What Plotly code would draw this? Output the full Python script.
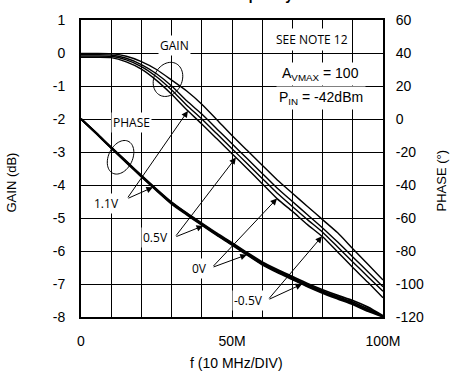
import numpy as np
import plotly.graph_objects as go

# Frequency sweep in MHz (10 MHz per division)
freq_mhz = [0, 5, 10, 15, 20, 25, 30, 35, 40, 45, 50, 55, 60, 65, 70, 75, 80, 85, 90, 95, 100]

# Gain (dB) for each control voltage
gain_1v1 = [-0.01, -0.01, -0.02, -0.10, -0.26, -0.50, -0.82, -1.15, -1.55, -2.02, -2.50,
            -2.95, -3.40, -3.85, -4.25, -4.65, -5.05, -5.45, -5.93, -6.40, -6.88]
gain_0v5 = [-0.05, -0.05, -0.06, -0.16, -0.35, -0.63, -1.00, -1.45, -1.85, -2.30, -2.75,
            -3.20, -3.65, -4.10, -4.50, -4.90, -5.30, -5.73, -6.18, -6.63, -7.08]
gain_0v = [-0.09, -0.09, -0.10, -0.21, -0.41, -0.72, -1.12, -1.58, -2.00, -2.45, -2.90,
           -3.35, -3.80, -4.25, -4.65, -5.05, -5.43, -5.88, -6.33, -6.78, -7.22]
gain_m0v5 = [-0.13, -0.13, -0.14, -0.27, -0.49, -0.83, -1.25, -1.72, -2.15, -2.60, -3.05,
             -3.50, -3.96, -4.42, -4.80, -5.20, -5.57, -6.03, -6.50, -6.95, -7.42]

# Phase (degrees) for each control voltage
phase_1v1 = [0, -8.3, -17.1, -25.6, -34.2, -42.5, -50.4, -57.0, -63.2, -69.3, -75.0,
             -81.0, -86.7, -91.3, -95.5, -99.7, -103.5, -106.9, -110.0, -114.0, -119.3]
phase_0v5 = [0, -8.5, -17.3, -25.9, -34.5, -42.8, -50.8, -57.3, -63.6, -69.8, -75.5,
             -81.5, -87.3, -92.0, -96.2, -100.4, -104.3, -107.8, -111.0, -115.1, -119.5]
phase_0v = [0, -8.6, -17.5, -26.1, -34.7, -43.1, -51.1, -57.6, -63.9, -70.1, -75.9,
            -82.0, -87.9, -92.6, -96.8, -101.1, -105.0, -108.5, -111.8, -115.9, -119.7]
phase_m0v5 = [0, -8.7, -17.7, -26.4, -35.0, -43.4, -51.5, -58.0, -64.3, -70.5, -76.3,
              -82.4, -88.3, -93.0, -97.3, -101.6, -105.5, -109.0, -112.4, -116.5, -119.9]

x_ticks = [0, 10, 20, 30, 40, 50, 60, 70, 80, 90, 100]
x_tick_text = ["0", "", "", "", "", "50M", "", "", "", "", "100M"]
gain_ticks = [1, 0, -1, -2, -3, -4, -5, -6, -7, -8]
gain_tick_text = ["1", "0", "-1", "-2", "-3", "-4", "-5", "-6", "-7", "-8"]
phase_ticks = [60, 40, 20, 0, -20, -40, -60, -80, -100, -120]
phase_tick_text = ["60", "40", "20", "0", "-20", "-40", "-60", "-80", "-100", "-120"]

# Labelled voltages: label centre, arrow tail, and frequencies where the
# arrows meet the gain and phase curves
labels = ["1.1V", "0.5V", "0V", "-0.5V"]
label_pos = [(8.6, -4.57), (24.8, -5.58), (39.4, -6.53), (55.6, -7.51)]
arrow_tail = [(15.2, -4.42), (31.1, -5.58), (43.4, -6.50), (61.9, -7.48)]
gain_arrow_f = [35.4, 51.3, 64.9, 79.8]
phase_arrow_f = [23.8, 40.4, 54.9, 73.2]

W, H = 453, 374
ML, MR, MT, MB = 81, 70, 15, 57
PW, PH = W - ML - MR, H - MT - MB
SX = PW / 100.0      # px per MHz
SY = PH / 9.0        # px per dB

ARIAL = "Liberation Sans, Arial, sans-serif"
NOTE_FONT = "Open Sans, sans-serif"

fig = go.Figure()

for g in [gain_1v1, gain_0v5, gain_0v, gain_m0v5]:
    fig.add_trace(go.Scatter(x=freq_mhz, y=g, mode="lines", yaxis="y",
                             line=dict(color="black", width=1.4, shape="spline", smoothing=0.6),
                             showlegend=False, hoverinfo="skip"))
for p in [phase_1v1, phase_0v5, phase_0v, phase_m0v5]:
    fig.add_trace(go.Scatter(x=freq_mhz, y=p, mode="lines", yaxis="y2",
                             line=dict(color="black", width=1.8, shape="spline", smoothing=0.6),
                             showlegend=False, hoverinfo="skip"))


def ellipse_path(cf, cg, a_px, b_px, tilt_deg):
    t = np.linspace(0, 2 * np.pi, 60)
    th = np.radians(tilt_deg)
    dx = a_px * np.cos(t)
    dy = b_px * np.sin(t)
    xr = dx * np.cos(th) + dy * np.sin(th)
    yr = -dx * np.sin(th) + dy * np.cos(th)
    fx = cf + xr / SX
    gy = cg + yr / SY
    pts = [f"{x:.3f},{y:.4f}" for x, y in zip(fx, gy)]
    return "M " + " L ".join(pts) + " Z"


shapes = [
    dict(type="path", xref="x", yref="y", path=ellipse_path(28.8, -0.80, 14, 18, 25),
         line=dict(color="black", width=1)),
    dict(type="path", xref="x", yref="y", path=ellipse_path(13.1, -3.16, 12, 18, 25),
         line=dict(color="black", width=1)),
]


def to_phase(g):
    return (g + 2.0) * 20.0


annotations = []
arrow_style = dict(showarrow=True, arrowhead=2, arrowsize=1.3, arrowwidth=1,
                   arrowcolor="black", text="", standoff=0, startstandoff=0)

for (tx, ty), gf, pf in zip(arrow_tail, gain_arrow_f, phase_arrow_f):
    # arrow to the gain curves
    annotations.append(dict(x=gf, y=float(np.interp(gf, freq_mhz, gain_m0v5)),
                            xref="x", yref="y", ax=tx, ay=ty, axref="x", ayref="y",
                            **arrow_style))
    # arrow to the phase curves
    annotations.append(dict(x=pf, y=float(np.interp(pf, freq_mhz, phase_m0v5)),
                            xref="x", yref="y2", ax=tx, ay=to_phase(ty), axref="x", ayref="y2",
                            **arrow_style))

for lab, (lx, ly) in zip(labels, label_pos):
    annotations.append(dict(x=lx, y=ly, xref="x", yref="y", text=lab, showarrow=False,
                            font=dict(family=NOTE_FONT, size=12, color="black"),
                            bgcolor="white", borderpad=1))

annotations += [
    dict(x=30.8, y=0.23, xref="x", yref="y", text="GAIN", showarrow=False,
         font=dict(family=NOTE_FONT, size=12, color="black"), bgcolor="white", borderpad=1),
    dict(x=16.6, y=-2.12, xref="x", yref="y", text="PHASE", showarrow=False,
         font=dict(family=NOTE_FONT, size=12, color="black"), bgcolor="white", borderpad=1),
    dict(x=76.5, y=0.42, xref="x", yref="y", text="SEE NOTE 12", showarrow=False,
         font=dict(family=NOTE_FONT, size=12, color="black"), bgcolor="white", borderpad=2),
    dict(x=79.3, y=-0.63, xref="x", yref="y", text="A<sub>VMAX</sub> = 100", showarrow=False,
         font=dict(family=ARIAL, size=14, color="black"), bgcolor="white", borderpad=2),
    dict(x=79.5, y=-1.35, xref="x", yref="y", text="P<sub>IN</sub> = -42dBm", showarrow=False,
         font=dict(family=ARIAL, size=14, color="black"), bgcolor="white", borderpad=2),
    # axis titles
    dict(x=(11 - ML) / PW, y=0.5, xref="paper", yref="paper", text="GAIN (dB)",
         showarrow=False, textangle=-90, font=dict(family=ARIAL, size=13, color="black"),
         xanchor="center", yanchor="middle", yshift=-14),
    dict(x=(441 - ML) / PW, y=0.5, xref="paper", yref="paper", text="PHASE (°)",
         showarrow=False, textangle=-90, font=dict(family=ARIAL, size=13, color="black"),
         xanchor="center", yanchor="middle", yshift=-12),
    dict(x=0.5, y=0.0, xref="paper", yref="paper", text="f (10 MHz/DIV)", showarrow=False,
         font=dict(family=ARIAL, size=14, color="black"),
         xanchor="center", yanchor="middle", yshift=-46, xshift=4),
    # chart title; only its lowest part falls inside the page
    dict(x=0.709, y=1.0, xref="paper", yref="paper", text="<b>Gain and Phase vs. Frequency</b>",
         showarrow=False, font=dict(family=ARIAL, size=14, color="black"),
         xanchor="right", yanchor="bottom", yshift=15),
]

fig.update_layout(
    width=W, height=H,
    margin=dict(l=ML, r=MR, t=MT, b=MB, pad=0),
    paper_bgcolor="white", plot_bgcolor="white",
    font=dict(family=ARIAL, size=14, color="black"),
    xaxis=dict(range=[0, 100], tickvals=x_ticks, ticktext=x_tick_text,
               showgrid=True, gridcolor="black", gridwidth=1,
               showline=True, linecolor="black", linewidth=2, mirror=True,
               ticks="outside", ticklen=10, tickcolor="rgba(0,0,0,0)",
               zeroline=False, fixedrange=True),
    yaxis=dict(range=[-8, 1], tickvals=gain_ticks, ticktext=gain_tick_text,
               showgrid=True, gridcolor="black", gridwidth=1,
               showline=True, linecolor="black", linewidth=2, mirror=True,
               ticks="outside", ticklen=11, tickcolor="rgba(0,0,0,0)",
               zeroline=False, fixedrange=True),
    yaxis2=dict(range=[-120, 60], tickvals=phase_ticks, ticktext=phase_tick_text,
                overlaying="y", side="right",
                showgrid=False, zeroline=False, showline=False,
                ticks="outside", ticklen=9, tickcolor="rgba(0,0,0,0)", fixedrange=True),
    shapes=shapes,
    annotations=annotations,
)

fig.write_html("out.html")
